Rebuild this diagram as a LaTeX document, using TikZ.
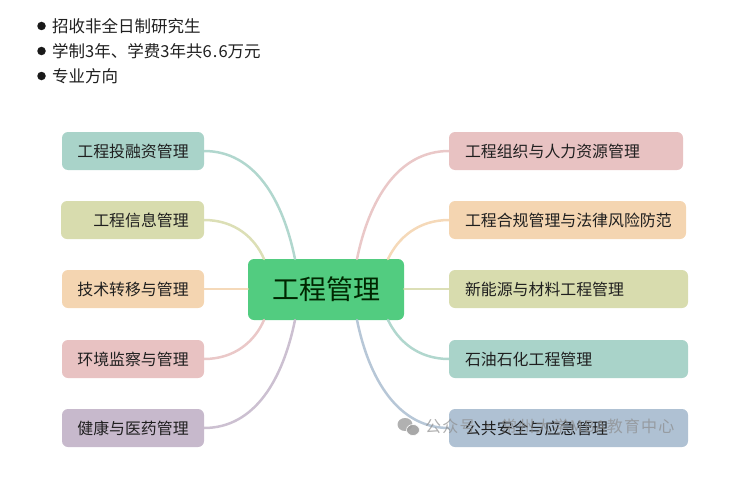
\documentclass[tikz,border=0pt]{standalone}
\usepackage{fontspec}
\setmainfont{Noto Sans CJK SC}
\newfontfamily\wmfont[LetterSpace=7.5]{Noto Sans CJK SC}
\newfontfamily\digitfont[LetterSpace=7]{Noto Sans CJK SC}
\definecolor{cTeal}{HTML}{A9D3C9}
\definecolor{cOlive}{HTML}{D8DCAE}
\definecolor{cPeach}{HTML}{F4D5B1}
\definecolor{cPink}{HTML}{E8C2C2}
\definecolor{cMauve}{HTML}{C7B9CC}
\definecolor{cBlue}{HTML}{AFC1D3}
\definecolor{cGreen}{HTML}{52CC80}
\tikzset{
  x=1pt,y=-1pt,
  topic/.style={rounded corners=6pt,minimum height=38pt,inner sep=0pt,font=\fontsize{15.9}{18}\selectfont,text=black!88},
  root/.style={fill=cGreen,rounded corners=6pt,inner sep=0pt,font=\fontsize{27}{30}\selectfont,text=black!85!green},
  branch/.style={line width=2.5pt,line cap=round,opacity=.9},
  bullettext/.style={anchor=west,inner sep=0pt,font=\fontsize{16.5}{18}\selectfont,text=black!88},
  dotmark/.style={circle,fill=black!90,minimum size=8.5pt,inner sep=0pt},
  mark text/.style={anchor=west,inner sep=0pt,font=\wmfont\fontsize{16}{18}\selectfont,text=black!45,opacity=.7}
}
\begin{document}
\begin{tikzpicture}
\useasboundingbox (0,0) rectangle (735,503);
% bullets
\node[dotmark] (d1) at (41.5,26) {};
\node[dotmark] (d2) at (41.5,51) {};
\node[dotmark] (d3) at (41.5,76) {};
\node[bullettext] (t1) at (52,26.5) {招收非全日制研究生};
\node[bullettext] (t2) at (52,51.5) {学制{\digitfont\fontsize{16.5}{18}\selectfont 3}年、学费{\digitfont\fontsize{16.5}{18}\selectfont 3}年共{\digitfont\fontsize{16.5}{18}\selectfont 6.6}万元};
\node[bullettext] (t3) at (52,76.5) {专业方向};
% root
\node[root,minimum width=156pt,minimum height=61pt] (c) at (326,289.5) {\raisebox{-1pt}{工程管理}};
% coordinates on root
\coordinate (cL1) at (295,259);
\coordinate (cL2) at (264,259);
\coordinate (cL4) at (264,320);
\coordinate (cL5) at (295,320);
\coordinate (cR1) at (357,259);
\coordinate (cR2) at (388,259);
\coordinate (cR4) at (388,320);
\coordinate (cR5) at (357,320);
% connectors
\draw[branch,cTeal] (204,151) coordinate (l1e) .. controls (255,151) and (283,200) .. (cL1);
\draw[branch,cOlive] (204,220) coordinate (l2e) .. controls (235,220) and (255,238) .. (cL2);
\draw[branch,cPeach] (204,289) coordinate (l3e) -- (c.west |- l3e);
\draw[branch,cPink] (204,359) coordinate (l4e) .. controls (235,359) and (255,341) .. (cL4);
\draw[branch,cMauve] (204,428) coordinate (l5e) .. controls (255,428) and (283,379) .. (cL5);
\draw[branch,cPink] (449,151) coordinate (r1w) .. controls (398,151) and (369,200) .. (cR1);
\draw[branch,cPeach] (449,220) coordinate (r2w) .. controls (418,220) and (398,238) .. (cR2);
\draw[branch,cOlive] (449,289) coordinate (r3w) -- (c.east |- r3w);
\draw[branch,cTeal] (449,359) coordinate (r4w) .. controls (418,359) and (398,341) .. (cR4);
\draw[branch,cBlue] (449,428) coordinate (r5w) .. controls (398,428) and (369,379) .. (cR5);
% left
\node[topic,fill=cTeal,minimum width=142pt] (l1) at (133,151) {\raisebox{-.7pt}{工程投融资管理}};
\node[topic,fill=cOlive,minimum width=143pt] (l2) at (132.5,220) {\hspace{17pt}\raisebox{-.7pt}{工程信息管理}};
\node[topic,fill=cPeach,minimum width=142pt] (l3) at (133,289) {\raisebox{-.7pt}{技术转移与管理}};
\node[topic,fill=cPink,minimum width=142pt] (l4) at (133,359) {\raisebox{-.7pt}{环境监察与管理}};
\node[topic,fill=cMauve,minimum width=142pt] (l5) at (133,428) {\raisebox{-.7pt}{健康与医药管理}};
% right
\node[topic,fill=cPink,minimum width=234pt] (r1) at (566,151) {\makebox[202pt][l]{\raisebox{-.7pt}{工程组织与人力资源管理}}};
\node[topic,fill=cPeach,minimum width=237pt] (r2) at (567.5,220) {\makebox[205pt][l]{\raisebox{-.7pt}{工程合规管理与法律风险防范}}};
\node[topic,fill=cOlive,minimum width=239pt] (r3) at (568.5,289) {\makebox[207pt][l]{\raisebox{-.7pt}{新能源与材料工程管理}}};
\node[topic,fill=cTeal,minimum width=239pt] (r4) at (568.5,359) {\makebox[207pt][l]{\raisebox{-.7pt}{石油石化工程管理}}};
\node[topic,fill=cBlue,minimum width=239pt] (r5) at (568.5,428) {\makebox[207pt][l]{\raisebox{-.7pt}{公共安全与应急管理}}};
% watermark
\fill[black!38,opacity=.8] (405,424.5) ellipse (7.5pt and 6.5pt);
\fill[black!38,opacity=.9,draw=white,line width=.7pt] (413,430) ellipse (6.5pt and 5.5pt);
\node[mark text] (wm) at (425,426) {公众号 · 常州大学MBA教育中心};
\end{tikzpicture}
\end{document}
